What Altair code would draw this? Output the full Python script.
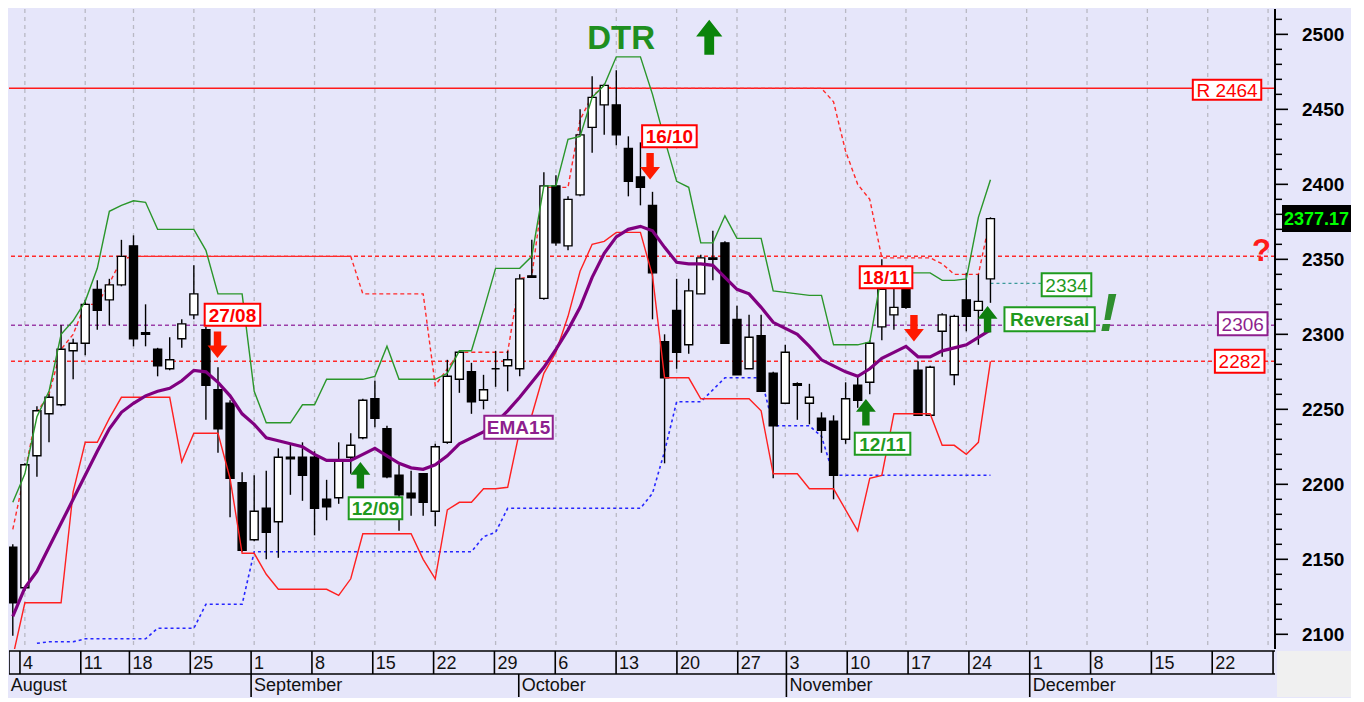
import altair as alt
import pandas as pd

# ---------------- data (trading-day index 0 = Aug 1) ----------------
opens = [2158, 2131, 2219, 2247, 2253, 2289, 2294, 2330, 2323, 2333,
         2359, 2301, 2290, 2277, 2297, 2313, 2303, 2263, 2254, 2201,
         2163, 2184, 2175, 2218, 2218, 2218, 2190, 2191, 2218, 2231,
         2257, 2237, 2206, 2194, 2207, 2182, 2228, 2270, 2275, 2256,
         2277, 2279, 2277, 2339, 2324, 2399, 2359, 2393, 2438, 2453,
         2453, 2424, 2405, 2386, 2295, 2316, 2293, 2327, 2351, 2361,
         2310, 2277, 2299, 2274, 2254, 2267, 2254, 2244, 2242, 2230,
         2266, 2268, 2305, 2313, 2330, 2276, 2246, 2302, 2273, 2323,
         2316, 2337]
highs = [2160, 2214, 2252, 2260, 2306, 2297, 2323, 2336, 2337, 2363,
         2366, 2320, 2291, 2298, 2310, 2346, 2305, 2278, 2256, 2208,
         2206, 2209, 2224, 2227, 2228, 2222, 2203, 2228, 2234, 2257,
         2269, 2239, 2213, 2209, 2207, 2227, 2283, 2289, 2281, 2273,
         2289, 2289, 2340, 2363, 2408, 2406, 2392, 2450, 2472, 2467,
         2476, 2432, 2428, 2395, 2300, 2337, 2337, 2353, 2369, 2362,
         2319, 2313, 2313, 2275, 2293, 2268, 2267, 2248, 2246, 2268,
         2272, 2296, 2350, 2331, 2331, 2282, 2279, 2314, 2313, 2341,
         2340, 2378]
lows = [2099, 2129, 2205, 2228, 2252, 2270, 2286, 2303, 2306, 2332,
        2292, 2292, 2272, 2276, 2291, 2310, 2243, 2221, 2178, 2155,
        2162, 2150, 2151, 2193, 2189, 2166, 2176, 2187, 2207, 2230,
        2238, 2204, 2169, 2179, 2179, 2172, 2227, 2261, 2247, 2250,
        2265, 2262, 2272, 2338, 2323, 2359, 2356, 2392, 2421, 2433,
        2426, 2392, 2386, 2310, 2214, 2277, 2287, 2327, 2336, 2294,
        2273, 2277, 2262, 2204, 2254, 2243, 2240, 2221, 2190, 2227,
        2251, 2260, 2296, 2303, 2317, 2246, 2246, 2285, 2266, 2302,
        2293, 2321]
closes = [2121, 2213, 2249, 2258, 2290, 2294, 2320, 2316, 2333, 2352,
          2297, 2300, 2279, 2283, 2307, 2327, 2266, 2237, 2204, 2156,
          2182, 2168, 2218, 2217, 2206, 2184, 2185, 2216, 2226, 2256,
          2244, 2205, 2193, 2191, 2188, 2225, 2272, 2288, 2255, 2263,
          2277, 2283, 2337, 2338, 2399, 2361, 2390, 2433, 2458, 2466,
          2433, 2402, 2398, 2341, 2271, 2288, 2329, 2351, 2350, 2294,
          2273, 2298, 2262, 2239, 2288, 2266, 2258, 2236, 2206, 2257,
          2256, 2294, 2330, 2318, 2318, 2246, 2278, 2313, 2312, 2312,
          2322, 2377.17]

upper_band = [2188, 2207, 2245, 2262, 2300, 2309, 2322, 2344, 2382, 2386,
              2389, 2388, 2370, 2370, 2370, 2370, 2356, 2327, 2327, 2327,
              2262, 2241, 2241, 2241, 2253, 2253, 2270, 2270, 2270, 2270,
              2272, 2292, 2270, 2270, 2270, 2270, 2274, 2289, 2289, 2316,
              2344, 2344, 2344, 2352, 2399, 2399, 2430, 2432, 2458, 2466,
              2485, 2485, 2485, 2460, 2430, 2402, 2398, 2361, 2361, 2379,
              2364, 2364, 2364, 2329, 2328, 2327, 2326, 2326, 2293, 2293,
              2293, 2295, 2341, 2341, 2341, 2341, 2341, 2336, 2336, 2337,
              2378, 2403]
lower_band = [2085, 2121, 2121, 2121, 2121, 2195, 2228, 2228, 2244, 2258,
              2258, 2258, 2258, 2258, 2215, 2234, 2234, 2234, 2204, 2154,
              2154, 2140, 2130, 2130, 2130, 2130, 2130, 2126, 2137, 2167,
              2167, 2167, 2167, 2167, 2150, 2137, 2183, 2188, 2188, 2197,
              2197, 2198, 2236, 2246, 2274, 2288, 2312, 2342, 2360, 2362,
              2368, 2368, 2368, 2339, 2271, 2271, 2271, 2257, 2257, 2257,
              2257, 2257, 2249, 2207, 2207, 2207, 2197, 2197, 2197, 2183,
              2169, 2204, 2206, 2247, 2247, 2247, 2247, 2226, 2226, 2220,
              2228, 2282]
ema15 = [2112, 2131, 2142, 2158, 2174, 2190, 2206, 2222, 2237, 2248,
         2254, 2259, 2262, 2264, 2269, 2276, 2275, 2268, 2259, 2247,
         2240, 2231, 2229, 2227, 2225, 2220, 2216, 2216, 2216, 2220,
         2224, 2219, 2214, 2211, 2210, 2213, 2219, 2227, 2231, 2235,
         2241, 2249, 2258, 2268, 2278, 2290, 2303, 2318, 2338, 2354,
         2365, 2370, 2372, 2369, 2358, 2348, 2347, 2347, 2346, 2338,
         2330, 2327, 2318, 2308, 2304, 2300, 2292, 2283, 2279, 2275,
         2272, 2277, 2284, 2288, 2292, 2285, 2285, 2289, 2291, 2293,
         2298, 2303]
stop_line = [2170, 2208, 2248, 2260, 2290, 2300, 2320, 2320, 2334, 2350,
             2352, 2352, 2352, 2352, 2352, 2352, 2352, 2352, 2352, 2352,
             2352, 2352, 2352, 2352, 2352, 2352, 2352, 2352, 2352, 2327,
             2327, 2327, 2327, 2327, 2327, 2266, 2277, 2288, 2288, 2288,
             2288, 2288, 2337, 2339, 2398, 2398, 2398, 2443, 2459, 2465,
             2464, 2464, 2464, 2464, 2464, 2464, 2464, 2464, 2464, 2464,
             2464, 2464, 2464, 2464, 2464, 2464, 2464, 2464, 2455, 2422,
             2400, 2390, 2351, 2351, 2351, 2351, 2351, 2347, 2340, 2340,
             2340, 2378]
support_start = 2
support_line = [2094, 2095, 2095, 2095, 2097, 2097, 2097, 2097, 2097, 2097,
                2104, 2104, 2104, 2104, 2120, 2120, 2120, 2120, 2155, 2155,
                2155, 2155, 2155, 2155, 2155, 2155, 2155, 2155, 2155, 2155,
                2155, 2155, 2155, 2155, 2155, 2155, 2155, 2165, 2168, 2184,
                2184, 2184, 2184, 2184, 2184, 2184, 2184, 2184, 2184, 2184,
                2184, 2194, 2222, 2255, 2255, 2255, 2263, 2271, 2271, 2271,
                2271, 2239, 2239, 2239, 2239, 2232, 2206, 2206, 2206, 2206,
                2206, 2206, 2206, 2206, 2206, 2206, 2206, 2206, 2206, 2206]

level_r = 2464
level_red = [2352, 2282]
level_purple = 2306
level_teal = 2334
teal_from, teal_to = 81, 85.2
last_price = 2377.17

price_labels = [2100, 2150, 2200, 2250, 2300, 2350, 2400, 2450, 2500]
minor_prices = [p for p in range(2100, 2511, 10) if p not in price_labels]

monday_idx = [1, 6, 10, 15, 20, 25, 30, 35, 40, 45, 50, 55, 60, 64, 69, 74, 79,
              84, 89, 94, 99, 104]
monday_lbl = ["4", "11", "18", "25", "1", "8", "15", "22", "29", "6", "13", "20",
              "27", "3", "10", "17", "24", "1", "8", "15", "22", "29"]
month_idx = [0, 20, 42, 64, 84]
month_lbl = ["August", "September", "October", "November", "December"]

box_text = ["27/08", "16/10", "18/11", "12/11", "12/09", "EMA15", "2334",
            "Reversal", "2306", "2282", "R 2464"]
box_x = [18.2, 54.4, 72.35, 72.06, 30.05, 41.9, 87.3, 85.9, 101.9, 101.65, 100.6]
box_y = [2313, 2432, 2338, 2227, 2184, 2238, 2333, 2310, 2307, 2282, 2463]
box_w = [56, 55, 53, 56, 54, 69, 50, 91, 50, 50, 69]
box_h = [22, 22, 22, 22, 22, 23, 23, 24, 23, 23, 20]
box_col = ["#ff0000", "#ff0000", "#ff0000", "#1f9a1f", "#1f9a1f", "#8e1f8e",
           "#1f9a1f", "#1f9a1f", "#8e1f8e", "#ff0000", "#ff0000"]
box_weight = ["bold", "bold", "bold", "bold", "bold", "bold", "normal",
              "bold", "normal", "normal", "normal"]

arrow_x = [16.96, 52.8, 74.66, 28.8, 70.68, 80.76]
arrow_y = [2293, 2412, 2304, 2206, 2248, 2310]
arrow_dir = ["down", "down", "down", "up", "up", "up"]

# ---------------- geometry ----------------
W, H = 1266, 640
BAND = 46
XMIN, XMAX = 0.1, 104.16
YMIN, YMAX = 2090.2, 2516.9
pxx = W / (XMAX - XMIN)
pxy = H / (YMAX - YMIN)
BG = "#E6E6FA"
FONT = "Liberation Sans"

xs = alt.Scale(domain=[XMIN, XMAX], nice=False, zero=False)
ys = alt.Scale(domain=[YMIN, YMAX], nice=False, zero=False)

def X(f):
    return alt.X(f, type="quantitative", scale=xs, axis=None, title=None)

def Y(f):
    return alt.Y(f, type="quantitative", scale=ys, axis=None, title=None)

n = len(opens)
cdf = pd.DataFrame({"i": list(range(n)), "o": opens, "h": highs, "l": lows, "c": closes})

# grid
grid = alt.Chart(pd.DataFrame({"i": monday_idx})).mark_rule(
    color="#b9b9c4", strokeWidth=1.3, strokeDash=[4, 4], clip=True).encode(x=X("i"))

# horizontal levels
lv_r = alt.Chart(pd.DataFrame({"p": [level_r]})).mark_rule(
    color="#ff1a1a", strokeWidth=1.5).encode(y=Y("p"))
lv_red = alt.Chart(pd.DataFrame({"p": level_red})).mark_rule(
    color="#ff2a2a", strokeWidth=1.5, strokeDash=[4, 3]).encode(y=Y("p"))
lv_pur = alt.Chart(pd.DataFrame({"p": [level_purple]})).mark_rule(
    color="#9b3ea8", strokeWidth=1.5, strokeDash=[4, 3]).encode(y=Y("p"))
lv_teal = alt.Chart(pd.DataFrame({"a": [teal_from], "b": [teal_to], "p": [level_teal]})).mark_rule(
    color="#3a9a9a", strokeWidth=1.4, strokeDash=[3, 3]).encode(x=X("a"), x2="b", y=Y("p"))

def series(vals, start=0):
    return pd.DataFrame({"i": list(range(start, start + len(vals))), "v": vals})

blue = alt.Chart(series(support_line, support_start)).mark_line(
    color="#2626ff", strokeWidth=1.6, strokeDash=[3, 3], clip=True).encode(x=X("i"), y=Y("v"))
stop = alt.Chart(series(stop_line)).mark_line(
    color="#ff2a2a", strokeWidth=1.4, strokeDash=[4, 3], clip=True).encode(x=X("i"), y=Y("v"))

wicks = alt.Chart(cdf).mark_rule(color="black", strokeWidth=1.4, clip=True).encode(
    x=X("i"), y=Y("l"), y2="h:Q")
bodies = alt.Chart(cdf).mark_bar(size=8, stroke="black", strokeWidth=1.4, clip=True).encode(
    x=X("i"), y=Y("o"), y2="c:Q",
    fill=alt.condition("datum.c >= datum.o", alt.value("white"), alt.value("black")))

red = alt.Chart(series(lower_band)).mark_line(
    color="#ff2020", strokeWidth=1.4, clip=True).encode(x=X("i"), y=Y("v"))
green = alt.Chart(series(upper_band)).mark_line(
    color="#2a962a", strokeWidth=1.4, clip=True).encode(x=X("i"), y=Y("v"))
purple = alt.Chart(series(ema15)).mark_line(
    color="#800080", strokeWidth=3.2, clip=True).encode(x=X("i"), y=Y("v"))

# annotation boxes
bdf = pd.DataFrame({
    "t": box_text, "x": box_x, "y": box_y, "col": box_col, "wt": box_weight,
    "x1": [a - w / 2 / pxx for a, w in zip(box_x, box_w)],
    "x2": [a + w / 2 / pxx for a, w in zip(box_x, box_w)],
    "y1": [b - h / 2 / pxy for b, h in zip(box_y, box_h)],
    "y2": [b + h / 2 / pxy for b, h in zip(box_y, box_h)],
})
boxes = alt.Chart(bdf).mark_rect(fill="white", strokeWidth=2).encode(
    x=X("x1"), x2="x2", y=Y("y1"), y2="y2",
    stroke=alt.Stroke("col:N", scale=None))
btxt_b = alt.Chart(bdf[bdf.wt == "bold"]).mark_text(
    font=FONT, fontSize=19, fontWeight="bold", baseline="middle", align="center", dy=1).encode(
    x=X("x"), y=Y("y"), text="t:N", color=alt.Color("col:N", scale=None))
btxt_n = alt.Chart(bdf[bdf.wt == "normal"]).mark_text(
    font=FONT, fontSize=19, baseline="middle", align="center", dy=1).encode(
    x=X("x"), y=Y("y"), text="t:N", color=alt.Color("col:N", scale=None))

DOWN = "M -0.28 -1 L 0.28 -1 L 0.28 0.05 L 0.75 0.05 L 0 1 L -0.75 0.05 L -0.28 0.05 Z"
UP = "M -0.28 1 L 0.28 1 L 0.28 -0.05 L 0.75 -0.05 L 0 -1 L -0.75 -0.05 L -0.28 -0.05 Z"
adf = pd.DataFrame({"x": arrow_x, "y": arrow_y, "d": arrow_dir})
arr_dn = alt.Chart(adf[adf.d == "down"]).mark_point(
    shape=DOWN, filled=True, size=700, color="#ff1a00", opacity=1).encode(x=X("x"), y=Y("y"))
arr_up = alt.Chart(adf[adf.d == "up"]).mark_point(
    shape=UP, filled=True, size=700, color="#0f7f0f", opacity=1).encode(x=X("x"), y=Y("y"))

dtr_df = pd.DataFrame({"x": [50.4], "y": [2497], "t": ["DTR"]})
dtr = alt.Chart(dtr_df).mark_text(font=FONT, fontSize=33, fontWeight="bold",
                                  color="#1f8f1f", baseline="middle").encode(
    x=X("x"), y=Y("y"), text="t:N")
dtr_arrow = alt.Chart(pd.DataFrame({"x": [57.7], "y": [2498]})).mark_point(
    shape=UP, filled=True, size=1225, color="#0a840a", opacity=1).encode(x=X("x"), y=Y("y"))
excl = alt.Chart(pd.DataFrame({"x": [90.75], "y": [2313], "t": ["!"]})).mark_text(
    font=FONT, fontSize=54, fontWeight="bold", fontStyle="italic", color="#2f8f2f",
    baseline="middle").encode(x=X("x"), y=Y("y"), text="t:N")
quest = alt.Chart(pd.DataFrame({"x": [103.45], "y": [2355], "t": ["?"]})).mark_text(
    font=FONT, fontSize=31, fontWeight="bold", color="#ff1a1a",
    baseline="middle").encode(x=X("x"), y=Y("y"), text="t:N")

# price axis on the right: domain line, ticks, labels
pax_line = alt.Chart(pd.DataFrame({"a": [0]})).mark_rule(color="black", strokeWidth=2).encode(
    x=alt.value(W), y=alt.value(0), y2=alt.value(H))
maj = alt.Chart(pd.DataFrame({"p": price_labels})).mark_rule(color="black", strokeWidth=1.6).encode(
    x=alt.value(W), x2=alt.value(W + 13), y=Y("p"))
mticks = alt.Chart(pd.DataFrame({"p": minor_prices})).mark_rule(color="black", strokeWidth=1.5).encode(
    x=alt.value(W), x2=alt.value(W + 7), y=Y("p"))
plabels = alt.Chart(pd.DataFrame({"p": price_labels, "t": [str(v) for v in price_labels]})).mark_text(
    font=FONT, fontSize=19, fontWeight="bold", color="black", align="left",
    baseline="middle", dy=1).encode(x=alt.value(W + 27), y=Y("p"), text="t:N")
lp_df = pd.DataFrame({"p": [last_price], "p1": [last_price - 13.5 / pxy],
                      "p2": [last_price + 13.5 / pxy], "t": [f"{last_price:.2f}"]})
lp_box = alt.Chart(lp_df).mark_rect(fill="black").encode(
    x=alt.value(W + 7), x2=alt.value(W + 76), y=Y("p1"), y2="p2")
lp_txt = alt.Chart(lp_df).mark_text(font=FONT, fontSize=18, fontWeight="bold",
                                    color="#00ff00", baseline="middle", align="center", dy=1).encode(
    x=alt.value(W + 41.5), y=Y("p"), text="t:N")

top = alt.layer(grid, lv_r, lv_red, lv_pur, lv_teal, blue, stop, wicks, bodies,
                red, green, purple, boxes, btxt_b, btxt_n, arr_dn, arr_up,
                dtr, dtr_arrow, excl, quest, pax_line, maj, mticks, plabels,
                lp_box, lp_txt).properties(width=W, height=H)

# ---------------- date band ----------------
bys = alt.Scale(domain=[0, 2], nice=False, zero=False)
hlines = alt.Chart(pd.DataFrame({"y": [2, 1]})).mark_rule(color="black", strokeWidth=1.6).encode(
    y=alt.Y("y:Q", scale=bys, axis=None))
wk_sep = alt.Chart(pd.DataFrame({"i": [0.1] + monday_idx})).mark_rule(
    color="black", strokeWidth=1.6, clip=True).encode(
    x=X("i"), y=alt.datum(1, scale=bys), y2=alt.datum(2))
mo_sep = alt.Chart(pd.DataFrame({"i": month_idx[1:]})).mark_rule(
    color="black", strokeWidth=1.6).encode(
    x=X("i"), y=alt.datum(0, scale=bys), y2=alt.datum(1))
wk_txt = alt.Chart(pd.DataFrame({"i": monday_idx, "t": monday_lbl})).mark_text(
    font=FONT, fontSize=18, align="left", dx=3, dy=1, baseline="middle", color="#111111",
    clip=True).encode(x=X("i"), y=alt.datum(1.5, scale=bys), text="t:N")
mo_txt = alt.Chart(pd.DataFrame({"i": month_idx, "t": month_lbl})).mark_text(
    font=FONT, fontSize=18, align="left", dx=3, baseline="middle", color="#111111").encode(
    x=X("i"), y=alt.datum(0.5, scale=bys), text="t:N")
corner = alt.Chart(pd.DataFrame({"a": [0]})).mark_rect(fill="#f0f0f0").encode(
    x=alt.value(W + 2), x2=alt.value(W + 76), y=alt.value(0), y2=alt.value(BAND))

bottom = alt.layer(corner, hlines, wk_sep, mo_sep, wk_txt, mo_txt).properties(width=W, height=BAND)

chart = alt.vconcat(top, bottom, spacing=0).properties(
    background=BG, padding=0
).configure_view(strokeWidth=0, fill=BG)

chart.save("out.html", embed_options={"renderer": "svg", "actions": False})
